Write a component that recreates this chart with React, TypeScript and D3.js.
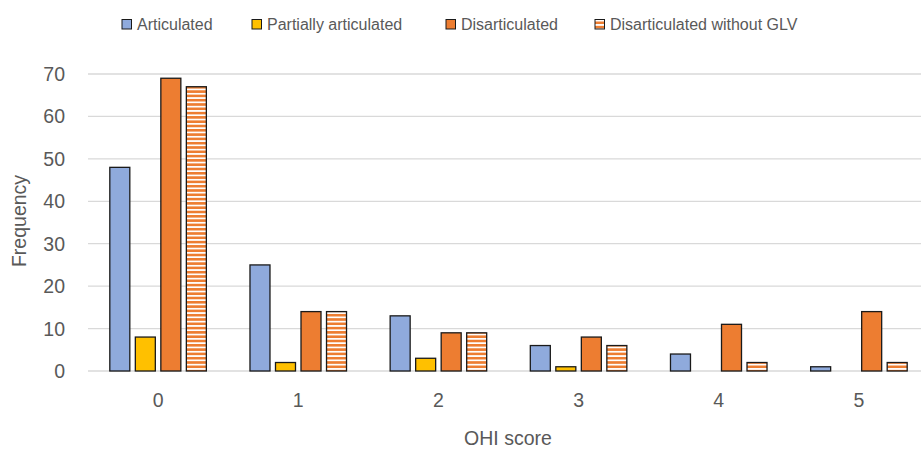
import React from "react";
import * as d3 from "d3";

const categories = ["0", "1", "2", "3", "4", "5"];
const seriesNames = ["Articulated", "Partially articulated", "Disarticulated", "Disarticulated without GLV"];
const articulated = [48, 25, 13, 6, 4, 1];
const partially = [8, 2, 3, 1, 0, 0];
const disarticulated = [69, 14, 9, 8, 11, 14];
const withoutGLV = [67, 14, 9, 6, 2, 2];
const yTicks = [0, 10, 20, 30, 40, 50, 60, 70];

const W = 921;
const H = 450;
const left = 88;
const right = 929;
const top = 74;
const bottom = 371;

const fills = ["#8FAADC", "#FFC000", "#ED7D31", "url(#stripes)"];
const legendX = [122, 252, 446, 595];

export default function App() {
  const series = [articulated, partially, disarticulated, withoutGLV];
  const x = d3.scaleBand<string>().domain(categories).range([left, right]).paddingInner(0).paddingOuter(0);
  const y = d3.scaleLinear().domain([0, 70]).range([bottom, top]);
  const inner = d3
    .scaleBand<number>()
    .domain(d3.range(series.length))
    .range([0, x.bandwidth()])
    .paddingInner(0.216)
    .paddingOuter(0.855);
  const font = "'Liberation Sans', Arial, sans-serif";
  const axisSize = 19.5;
  return (
    <svg width={W} height={H} style={{ position: "absolute", left: 0, top: 0, background: "#fff" }}>
      <defs>
        <pattern id="stripes" patternUnits="userSpaceOnUse" width={8} height={4.3}>
          <rect x={0} y={0} width={8} height={4.3} fill="#ED7D31" />
          <rect x={0} y={2.6} width={8} height={1.7} fill="#fff" />
        </pattern>
      </defs>
      <rect width={W} height={H} fill="#fff" />
      {yTicks.map((t) => (
        <g key={t}>
          <line x1={left} x2={W} y1={y(t)} y2={y(t)} stroke="#D9D9D9" strokeWidth={1.3} />
          <text x={65} y={y(t)} dy="0.36em" textAnchor="end" fontFamily={font} fontSize={axisSize} fill="#595959">
            {t}
          </text>
        </g>
      ))}
      {series.map((vals, si) =>
        vals.map((v, ci) =>
          v > 0 ? (
            <rect
              key={si + "-" + ci}
              x={(x(categories[ci]) as number) + (inner(si) as number)}
              y={y(v)}
              width={inner.bandwidth()}
              height={y(0) - y(v)}
              fill={fills[si]}
              stroke="#1a1a1a"
              strokeWidth={1.3}
            />
          ) : null
        )
      )}
      {categories.map((c) => (
        <text
          key={c}
          x={(x(c) as number) + x.bandwidth() / 2}
          y={400}
          dy="0.36em"
          textAnchor="middle"
          fontFamily={font}
          fontSize={axisSize}
          fill="#595959"
        >
          {c}
        </text>
      ))}
      <text x={508} y={438} dy="0.36em" textAnchor="middle" fontFamily={font} fontSize={axisSize} fill="#595959">
        OHI score
      </text>
      <text
        transform={`translate(19,221) rotate(-90)`}
        dy="0.36em"
        textAnchor="middle"
        fontFamily={font}
        fontSize={axisSize}
        fill="#595959"
      >
        Frequency
      </text>
      {seriesNames.map((n, i) => (
        <g key={n}>
          <rect x={legendX[i]} y={19.5} width={9.5} height={9.5} fill={fills[i]} stroke="#1a1a1a" strokeWidth={1} />
          <text x={legendX[i] + 15} y={30} fontFamily={font} fontSize={16} fill="#595959">
            {n}
          </text>
        </g>
      ))}
    </svg>
  );
}
